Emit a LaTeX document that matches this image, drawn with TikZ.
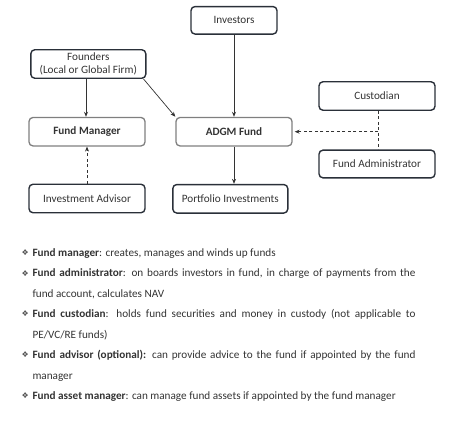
\documentclass[tikz,border=0pt]{standalone}
\usepackage{fontspec}
\setmainfont{Carlito}
\newfontfamily\symfont{DejaVu Sans}
\usetikzlibrary{arrows.meta}
\definecolor{txt}{HTML}{333333}
\definecolor{darkb}{HTML}{2A3039}
\definecolor{grayb}{HTML}{7F7F7F}
\definecolor{bul}{HTML}{555555}
\tikzset{
  box/.style={draw=darkb, line width=1.4pt, rounded corners=4pt, text=txt, font=\fontsize{11.2}{13}\selectfont, inner sep=0pt, minimum width=116pt, minimum height=28.5pt, align=center},
  gbox/.style={box, draw=grayb, line width=1.3pt, font=\bfseries\fontsize{11.2}{13}\selectfont},
  arr/.style={draw=txt, line width=0.7pt, -{Stealth[length=5pt,width=4pt]}},
  darr/.style={arr, dashed, dash pattern=on 3pt off 2.5pt},
  dline/.style={draw=txt, line width=0.7pt, dash pattern=on 3pt off 2.5pt},
  item/.style={anchor=north west, inner sep=0pt, text width=383pt, align=justify, text=txt, font=\fontsize{11.2}{20.45}\selectfont},
  bullet/.style={anchor=center, inner sep=0pt, text=bul, font=\symfont\fontsize{8}{9}\selectfont}
}
\begin{document}
\begin{tikzpicture}[x=1pt,y=-1pt]
\path[use as bounding box] (0,0) rectangle (461,434);
\node[box, minimum width=86pt, minimum height=27.5pt] (inv) at (234,20.3) {Investors};
\node[box, minimum width=115pt] (fou) at (88.3,64) {Founders\\(Local or Global Firm)};
\node[box] (cus) at (377,96) {Custodian};
\node[gbox] (fm) at (87,131.7) {Fund Manager};
\node[gbox] (adgm) at (234,131.7) {ADGM Fund};
\node[box, minimum height=27.7pt] (adm) at (377,164) {Fund Administrator};
\node[box] (ia) at (87,198.5) {Investment Advisor};
\node[box, minimum width=115pt] (pi) at (230.3,198.8) {Portfolio Investments};

\draw[arr] (fou.south -| fm.north) ++(-1,0) coordinate (a1) -- (a1 |- fm.north);
\draw[arr] ([xshift=-3pt]fou.south east) -- ([xshift=0pt]adgm.north west);
\draw[arr] (inv.south) -- (adgm.north);
\draw[arr] (adgm.south) -- (adgm.south |- pi.north);
\draw[darr] (ia.north) -- (fm.south);
\coordinate (mid) at ([xshift=1.3pt]cus.south |- adgm.east);
\draw[dline] ([xshift=1.3pt]cus.south) -- ([xshift=1.3pt]adm.north);
\draw[darr] (mid) -- ([xshift=2pt]adgm.east);

\node[bullet] (b1) at (25.3,252.6) {❖};
\node[item] (t1) at (32.3,241.7) {\strut\textbf{Fund manager}: creates, manages and winds up funds};
\node[bullet] (b2) at (25.3,273.1) {❖};
\node[item] (t2) at (32.3,262.2) {\strut\textbf{Fund administrator}: on boards investors in fund, in charge of payments from the\linebreak fund account, calculates NAV};
\node[bullet] (b3) at (25.3,314) {❖};
\node[item] (t3) at (32.3,303.1) {\strut\textbf{Fund custodian}: holds fund securities and money in custody (not applicable to\linebreak PE/VC/RE funds)};
\node[bullet] (b4) at (25.3,355) {❖};
\node[item] (t4) at (32.3,344.1) {\strut\textbf{Fund advisor (optional):} can provide advice to the fund if appointed by the fund\linebreak manager};
\node[bullet] (b5) at (25.3,395.9) {❖};
\node[item] (t5) at (32.3,385) {\strut\textbf{Fund asset manager}: can manage fund assets if appointed by the fund manager};
\end{tikzpicture}
\end{document}
